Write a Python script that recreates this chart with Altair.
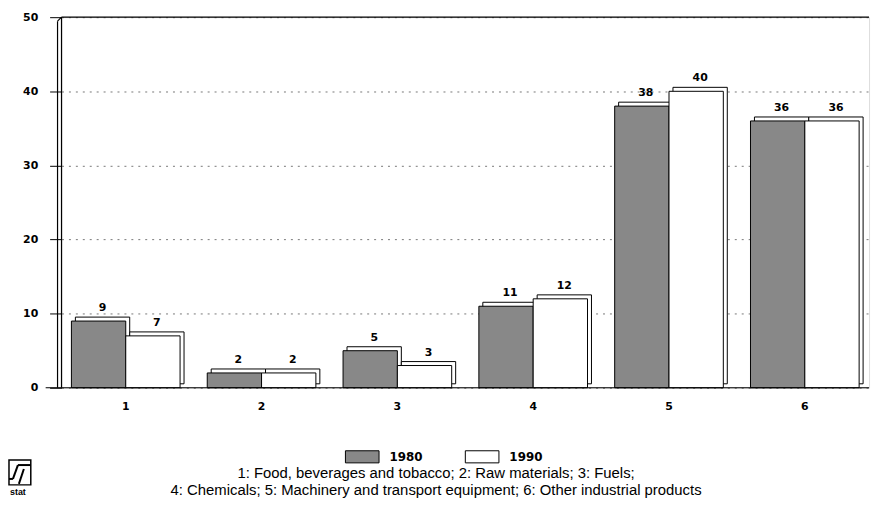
import altair as alt
import pandas as pd

categories = ["1", "2", "3", "4", "5", "6"]
years = ["1980", "1990"]
values_1980 = [9, 2, 5, 11, 38, 36]
values_1990 = [7, 2, 3, 12, 40, 36]
y_ticks = [0, 10, 20, 30, 40, 50]
footnote = [
    "1: Food, beverages and tobacco; 2: Raw materials; 3: Fuels;",
    "4: Chemicals; 5: Machinery and transport equipment; 6: Other industrial products",
]

rows = []
for c, a, b in zip(categories, values_1980, values_1990):
    rows.append({"cat": c, "year": "1980", "value": a})
    rows.append({"cat": c, "year": "1990", "value": b})
df = pd.DataFrame(rows)

W, H = 815, 374
BOLD = "DejaVu Sans"
N = len(categories)
P_IN, P_OUT = 0.2, 0.073
STEP = W / (N - P_IN + 2 * P_OUT)
BAND = STEP * (1 - P_IN)

x_enc = alt.X("cat:N", sort=categories,
              scale=alt.Scale(paddingInner=P_IN, paddingOuter=P_OUT),
              axis=alt.Axis(title=None, labelAngle=0, ticks=False, domain=False,
                            labelFont=BOLD, labelFontWeight="bold", labelFontSize=11,
                            labelPadding=13, labelColor="black"))
y_enc = alt.Y("value:Q", scale=alt.Scale(domain=[0, 50], nice=False),
              axis=alt.Axis(title=None, values=y_ticks, tickSize=12, tickColor="black",
                            labelFont=BOLD, labelFontWeight="bold", labelFontSize=11,
                            labelPadding=12, labelColor="black",
                            domain=False, grid=True, gridDash=[2, 5],
                            gridColor="#777", gridWidth=1))
xo = alt.XOffset("year:N", sort=years, scale=alt.Scale(paddingInner=0, paddingOuter=0))
xo_back = alt.XOffset("year:N", sort=years,
                      scale=alt.Scale(paddingInner=0, paddingOuter=0, range=[4, BAND + 4]))
fill_scale = alt.Scale(domain=years, range=["#888888", "#ffffff"])

base = alt.Chart(df)

back = base.mark_bar(yOffset=-4, y2Offset=-4,
                     fill="white", stroke="black", strokeWidth=1).encode(
    x=x_enc, y=y_enc, xOffset=xo_back)

front = base.mark_bar(stroke="black", strokeWidth=1).encode(
    x=x_enc, y=y_enc, xOffset=xo,
    fill=alt.Fill("year:N", scale=fill_scale, sort=years,
                  legend=alt.Legend(title=None, orient="none", legendX=286, legendY=426,
                                    direction="horizontal",
                                    symbolType="M-1,-0.36H1V0.36H-1Z", symbolSize=1150,
                                    symbolStrokeColor="black", symbolStrokeWidth=1,
                                    labelFont=BOLD, labelFontWeight="bold",
                                    labelFontSize=12, labelColor="black",
                                    labelOffset=10, columnPadding=40)))

labels_a = base.transform_filter(alt.datum.year == "1980").mark_text(
    dy=-8, dx=-BAND / 4 + 4, baseline="bottom", font=BOLD,
    fontWeight="bold", fontSize=11, color="black").encode(
    x=x_enc, y=y_enc, text=alt.Text("value:Q"))
labels_b = base.transform_filter(alt.datum.year == "1990").mark_text(
    dy=-8, dx=BAND / 4 + 4, baseline="bottom", font=BOLD,
    fontWeight="bold", fontSize=11, color="black").encode(
    x=x_enc, y=y_enc, text=alt.Text("value:Q"))

top_rule = alt.Chart(pd.DataFrame({"v": [50]})).mark_rule(color="black", strokeWidth=1.2).encode(
    y=alt.Y("v:Q", scale=alt.Scale(domain=[0, 50])))
zero_rule = alt.Chart(pd.DataFrame({"v": [0]})).mark_rule(color="black", strokeWidth=1.2).encode(
    y=alt.Y("v:Q", scale=alt.Scale(domain=[0, 50])), x=alt.value(-16), x2=alt.value(W))
one = pd.DataFrame({"v": [0]})
wall1 = alt.Chart(one).mark_rule(color="black", strokeWidth=1.2).encode(
    x=alt.value(0), y=alt.value(0), y2=alt.value(H))
wall2 = alt.Chart(one).mark_rule(color="black", strokeWidth=1.2).encode(
    x=alt.value(-4), y=alt.value(4), y2=alt.value(H))
wall_top = alt.Chart(one).mark_rule(color="black", strokeWidth=1.2).encode(
    x=alt.value(-4), x2=alt.value(0), y=alt.value(4), y2=alt.value(0))

logo = alt.layer(
    alt.Chart(one).mark_rect(fill="white", stroke="black", strokeWidth=1.5).encode(
        x=alt.value(-53), x2=alt.value(-31), y=alt.value(447), y2=alt.value(472)),
    alt.Chart(one).mark_rule(color="black", strokeWidth=2).encode(
        x=alt.value(-53), x2=alt.value(-49), y=alt.value(466), y2=alt.value(466)),
    alt.Chart(one).mark_rule(color="black", strokeWidth=2).encode(
        x=alt.value(-49), x2=alt.value(-44), y=alt.value(466), y2=alt.value(452)),
    alt.Chart(one).mark_rule(color="black", strokeWidth=2).encode(
        x=alt.value(-44), x2=alt.value(-31), y=alt.value(452), y2=alt.value(452)),
    alt.Chart(one).mark_rule(color="black", strokeWidth=2).encode(
        x=alt.value(-43), x2=alt.value(-38), y=alt.value(471), y2=alt.value(456)),
    alt.Chart(pd.DataFrame({"t": ["stat"]})).mark_text(
        font="Liberation Sans", fontSize=9, fontWeight="bold", color="black", align="left",
        baseline="middle").encode(x=alt.value(-52), y=alt.value(479), text="t:N"),
)

notes = alt.layer(
    alt.Chart(pd.DataFrame({"t": [footnote[0]]})).mark_text(
        font="Liberation Sans", fontSize=15, color="black", align="center", baseline="middle"
    ).encode(x=alt.value(378), y=alt.value(460), text="t:N"),
    alt.Chart(pd.DataFrame({"t": [footnote[1]]})).mark_text(
        font="Liberation Sans", fontSize=15, color="black", align="center", baseline="middle"
    ).encode(x=alt.value(378), y=alt.value(477), text="t:N"),
)

chart = alt.layer(back, front, labels_a, labels_b, top_rule, zero_rule, wall1, wall2, wall_top,
                  notes, logo).resolve_scale(
    xOffset="independent"
).properties(
    width=W, height=H,
    autosize=alt.AutoSizeParams(type="none"),
    padding={"left": 54, "top": 7, "right": 6, "bottom": 111},
).configure_view(stroke=None).configure(background="white")

chart.save("out.html", embed_options={"renderer": "svg", "actions": False})
